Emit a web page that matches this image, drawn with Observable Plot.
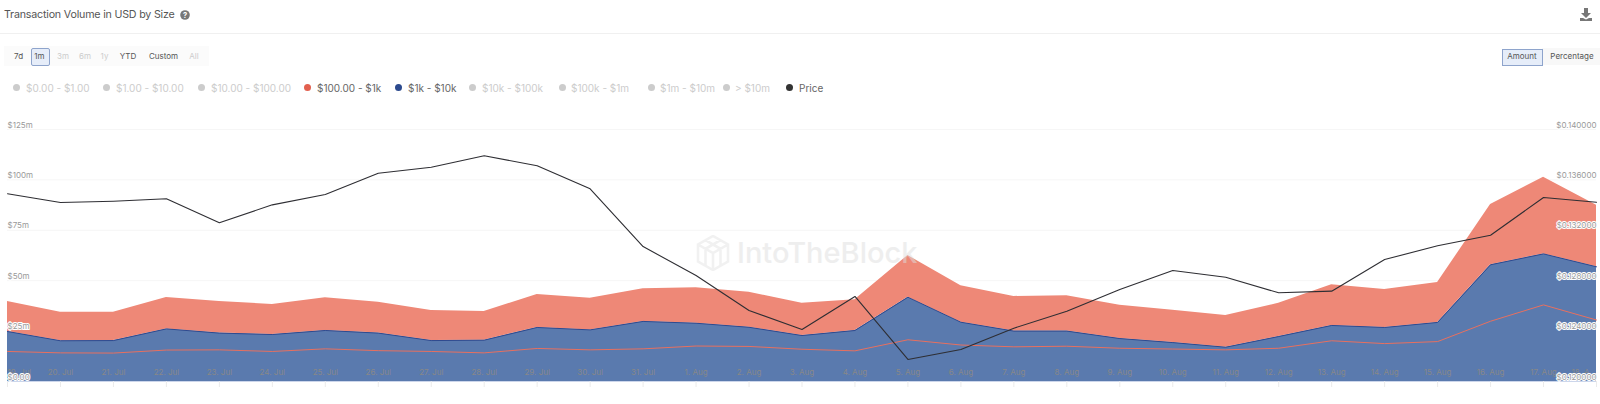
<!DOCTYPE html>
<html><head><meta charset="utf-8">
<script src="https://cdn.jsdelivr.net/npm/d3@7"></script>
<script src="https://cdn.jsdelivr.net/npm/@observablehq/plot@0.6"></script>
<style>
html,body{margin:0;padding:0;background:#fff;width:1600px;height:404px;overflow:hidden;font-family:Inter,sans-serif}
.a{position:absolute;white-space:nowrap;line-height:1}
#chart{position:absolute;left:0;top:110px}
#chart svg{display:block;background:transparent}
.btn{font-size:8px;color:#555;top:52px;transform:translateX(-50%)}
.btn.off{color:#ccc}
.leg{font-size:10px;color:#ccc;top:82.5px}
.leg.on{color:#666}
.dot{width:7px;height:7px;border-radius:50%;top:84px;background:#ccc}
</style></head><body>
<div class="a" style="left:4px;top:10px;font-size:10.700px;color:#555;letter-spacing:-.2px">Transaction Volume in USD by Size</div>
<svg class="a" style="left:179px;top:9px" width="12" height="12" viewBox="0 0 12 12"><circle cx="6" cy="6" r="4.8" fill="#777"/><text x="6" y="8.6" font-size="7.5" text-anchor="middle" fill="#fff" font-family="Inter" font-weight="700">?</text></svg>
<svg class="a" style="left:1579px;top:8px" width="14" height="13" viewBox="0 0 14 13"><path d="M5 0h4v5h3L7 10 2 5h3z M1 10h3l3 1.5L10 10h3v3H1z" fill="#777"/></svg>
<div class="a" style="left:0;top:33px;width:1600px;height:1px;background:#f0f0f0"></div>
<div class="a" style="left:4px;top:46px;width:205px;height:20px;background:#fbfbfb"></div>
<div class="a" style="left:30.5px;top:48px;width:17px;height:16px;background:#e6edf9;border:1px solid #8ea4cc;border-radius:2px"></div>
<div class="a" style="left:1542px;top:48px;width:58px;height:17px;background:#f8f8f8"></div>
<div class="a" style="left:1502px;top:48.5px;width:39px;height:15px;background:#e6edf9;border:1px solid #8ea4cc"></div>
<div id="buttons"></div>
<div id="legend"></div>
<div id="chart"></div>
<svg class="a" style="left:696px;top:235px;opacity:.5" width="34" height="36" viewBox="0 0 34 36"><path d="M17 1 32 9.500V26.500L17 35 2 26.500V9.500z M2 9.500 17 18 32 9.500 M17 18V35 M9.500 5.200 24.500 13.800V30.800 M24.500 5.200 9.500 13.800V30.800" fill="none" stroke="#e4e4e4" stroke-width="2.500"/></svg>
<div class="a" style="left:737px;top:238px;font-size:29px;color:#dedede;opacity:.5;font-weight:500">IntoTheBlock</div>
<script>
const days = ["19. Jul","20. Jul","21. Jul","22. Jul","23. Jul","24. Jul","25. Jul","26. Jul","27. Jul","28. Jul","29. Jul","30. Jul","31. Jul","1. Aug","2. Aug","3. Aug","4. Aug","5. Aug","6. Aug","7. Aug","8. Aug","9. Aug","10. Aug","11. Aug","12. Aug","13. Aug","14. Aug","15. Aug","16. Aug","17. Aug","18. A..."];
const band1kTo10k = [24.8,20.2,20.3,26.1,24.0,23.3,25.3,24.0,20.3,20.5,26.8,25.6,29.8,28.9,26.9,22.8,25.3,41.8,29.4,25.0,25.0,21.3,19.3,17.0,22.3,27.8,26.8,29.3,57.9,63.3,56.9];
const band100To1k = [14.9,14.2,14.1,15.6,15.7,14.9,16.2,15.3,14.9,14.2,16.4,15.7,16.2,17.6,17.4,16.0,15.2,20.7,18.1,17.2,17.5,16.5,16.1,15.7,16.5,20.2,18.8,19.8,29.9,38.0,30.5];
const price = [.13490,.13421,.13431,.13450,.13260,.13402,.13484,.13653,.13701,.13791,.13712,.13529,.13071,.12841,.12564,.12413,.12675,.12175,.12254,.12423,.12558,.12730,.12881,.12828,.12704,.12717,.12968,.13077,.13161,.13460,.13423];
const volumeTicks = [0,25,50,75,100,125];
const volumeLabels = ["$0.00","$25m","$50m","$75m","$100m","$125m"];
const priceLabels = ["$0.120000","$0.124000","$0.128000","$0.132000","$0.136000","$0.140000"];
const rangeButtons = [["7d",18.6,1],["1m",39.5,1],["3m",63,0],["6m",85,0],["1y",104.5,0],["YTD",128,1],["Custom",163.5,1],["All",194,0]];
const valueButtons = [["Amount",1522,1],["Percentage",1572,1]];
const legendItems = [["$0.00 - $1.00",16,26,"#ccc",0],["$1.00 - $10.00",106,116,"#ccc",0],["$10.00 - $100.00",201,211,"#ccc",0],["$100.00 - $1k",307,317,"#e2604f",1],["$1k - $10k",398,408,"#2c4a8e",1],["$10k - $100k",472,482,"#ccc",0],["$100k - $1m",562,571,"#ccc",0],["$1m - $10m",651,660,"#ccc",0],["> $10m",726,735,"#ccc",0],["Price",789,799,"#333",1]];

const host = (id) => document.getElementById(id);
for (const [t,x,on] of [...rangeButtons,...valueButtons]) {
  const e = document.createElement("div");
  e.className = "a btn" + (on ? "" : " off"); e.style.left = x + "px"; e.textContent = t;
  host("buttons").append(e);
}
for (const [t,dx,tx,c,on] of legendItems) {
  const d = document.createElement("div");
  d.className = "a dot"; d.style.left = (dx-3.5) + "px"; d.style.background = c;
  const e = document.createElement("div");
  e.className = "a leg" + (on ? " on" : ""); e.style.left = tx + "px"; e.textContent = t;
  host("legend").append(d, e);
}

const rows = [
  ...days.map((day,i)=>({i, band:"$1k - $10k", v:band1kTo10k[i]})),
  ...days.map((day,i)=>({i, band:"$100.00 - $1k", v:band100To1k[i]}))
];
const priceRows = days.map((day,i)=>({i, p:(price[i]-0.12)/0.004*25}));
const dayRows = days.map((label,i)=>({i,label}));
const fills = {"$1k - $10k":"#5a7aae","$100.00 - $1k":"#ee8877"};
const lines = {"$1k - $10k":"#2f4a8f","$100.00 - $1k":"#e8705f"};
const tickData = volumeTicks.map((v,i)=>({v, left:volumeLabels[i], right:priceLabels[i]}));
const labelStyle = {y:"v", dy:-4.5, fontSize:8, fill:"#999", stroke:"#fff", strokeWidth:2};
const dayStyle = {x:"i", text:"label", frameAnchor:"bottom", dy:-7, fontSize:8, fill:"#888"};

const plot = Plot.plot({
  width:1600, height:294, marginLeft:7, marginRight:4, marginTop:19, marginBottom:23,
  style:{fontFamily:"Inter, sans-serif", background:"transparent", overflow:"visible"},
  x:{type:"linear", domain:[0,days.length-1], axis:null},
  y:{type:"linear", domain:[0,125], axis:null},
  marks:[
    Plot.ruleY(volumeTicks.slice(1),{stroke:"#f6f6f6", strokeWidth:1}),
    Plot.areaY(rows,{x:"i", y:"v", fill:d=>fills[d.band], z:"band", order:null}),
    Plot.lineY(rows,{x:"i", y:"v", stroke:d=>lines[d.band], z:"band", order:null, strokeWidth:1}),
    Plot.ruleY([0],{stroke:"#ccd6eb", strokeWidth:1}),
    Plot.ruleX(dayRows,{x:"i", y1:0, y2:0, stroke:"#ebebeb", insetBottom:-6}),
    Plot.lineY(priceRows,{x:"i", y:"p", stroke:"#2e2e33", strokeWidth:1.1}),
    Plot.text(dayRows.slice(1,-1),dayStyle),
    Plot.text(dayRows.slice(0,1),{...dayStyle, textAnchor:"start"}),
    Plot.text(dayRows.slice(-1),{...dayStyle, textAnchor:"end"}),
    Plot.text(tickData,{...labelStyle, frameAnchor:"left", text:"left", textAnchor:"start"}),
    Plot.text(tickData,{...labelStyle, frameAnchor:"right", text:"right", textAnchor:"end"})
  ]
});
host("chart").append(plot);
</script>
</body></html>
